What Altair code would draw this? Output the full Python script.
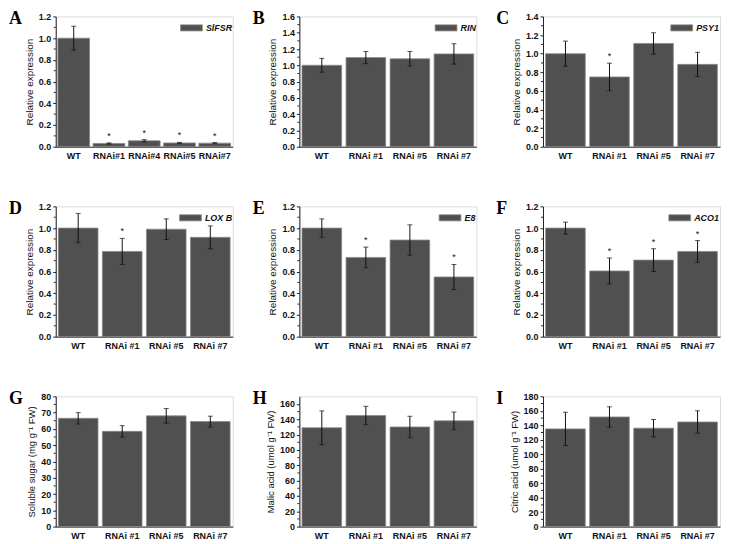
import altair as alt
import pandas as pd

# ---------------- data ----------------
cats_a = ["WT", "RNAi#1", "RNAi#4", "RNAi#5", "RNAi#7"]
cats = ["WT", "RNAi #1", "RNAi #5", "RNAi #7"]

sifsr_val = [1.0, 0.03, 0.055, 0.035, 0.033]
sifsr_err = [0.11, 0.005, 0.01, 0.005, 0.005]
sifsr_sig = [0, 1, 1, 1, 1]

rin_val = [1.0, 1.095, 1.08, 1.14]
rin_err = [0.085, 0.075, 0.09, 0.125]
rin_sig = [0, 0, 0, 0]

psy1_val = [1.0, 0.75, 1.11, 0.885]
psy1_err = [0.135, 0.148, 0.115, 0.13]
psy1_sig = [0, 1, 0, 0]

loxb_val = [1.0, 0.785, 0.99, 0.915]
loxb_err = [0.135, 0.12, 0.095, 0.105]
loxb_sig = [0, 1, 0, 0]

e8_val = [1.0, 0.73, 0.89, 0.55]
e8_err = [0.085, 0.095, 0.14, 0.115]
e8_sig = [0, 1, 0, 1]

aco1_val = [1.0, 0.605, 0.705, 0.785]
aco1_err = [0.055, 0.12, 0.105, 0.1]
aco1_sig = [0, 1, 1, 1]

sugar_val = [66.5, 58.5, 68.0, 64.5]
sugar_err = [3.5, 3.5, 4.5, 3.3]

malic_val = [129, 145, 130, 138]
malic_err = [22, 12, 14, 11.5]

citric_val = [135, 151.5, 136, 144.5]
citric_err = [23, 14, 12, 15.5]

BAR = "#505050"
W, H = 178, 131
FONT = "Liberation Sans"


def panel(letter, cats_, vals, errs, sig, gene, ytitle, ymax, ystep, fmt,
          tsize=10):
    n = len(cats_)
    df = pd.DataFrame({
        "cat": cats_,
        "val": vals,
        "lo": [v - e for v, e in zip(vals, errs)],
        "hi": [v + e for v, e in zip(vals, errs)],
        "star": ["*" if s else "" for s in sig],
        "gene": [gene if gene else "x"] * n,
    })
    ticks = []
    minors = []
    k = 0
    while k * ystep <= ymax + 1e-9:
        ticks.append(round(k * ystep, 6))
        if (k + 0.5) * ystep < ymax:
            minors.append(round((k + 0.5) * ystep, 6))
        k += 1
    xs = alt.X("cat:N", sort=cats_, axis=None)
    xenc = alt.X("cat:N", sort=cats_, title=None,
                 scale=alt.Scale(paddingInner=0.1, paddingOuter=0.06),
                 axis=alt.Axis(labelAngle=0, ticks=False, labelFont=FONT,
                               labelFontWeight="bold", labelFontSize=9,
                               labelColor="#111", labelPadding=5,
                               domainColor="#222", domainWidth=1))
    yscale = alt.Scale(domain=[0, ymax], nice=False, zero=True)
    yaxis = alt.Axis(values=ticks, format=fmt, title=ytitle, grid=False,
                     labelOverlap=False, labelFlush=False,
                     labelFont=FONT, labelFontWeight="bold", labelFontSize=9,
                     labelColor="#111", tickSize=3, tickColor="#222",
                     domainColor="#222", titleFont=FONT, titleFontSize=tsize,
                     titleFontWeight="normal", titleColor="#111",
                     titlePadding=4, labelPadding=2)
    base = alt.Chart(df)
    if gene:
        color = alt.Color("gene:N", scale=alt.Scale(range=[BAR]),
                          legend=alt.Legend(
                              title=None, orient="top-right", offset=0,
                              padding=0,
                              symbolType="M-1,-0.28L1,-0.28L1,0.28L-1,0.28Z",
                              symbolSize=480, symbolStrokeColor="#8a8a8a",
                              symbolStrokeWidth=0.8, symbolOpacity=1,
                              labelFont=FONT, labelFontStyle="italic",
                              labelFontWeight="bold", labelFontSize=9,
                              labelColor="#111", labelOffset=3))
    else:
        color = alt.value(BAR)
    bars = base.mark_bar(stroke="#8a8a8a", strokeWidth=0.8, opacity=1).encode(
        x=xenc, y=alt.Y("val:Q", scale=yscale, axis=yaxis), color=color)
    rule = base.mark_rule(color="#111", strokeWidth=1).encode(
        x=xs, y=alt.Y("lo:Q", axis=None), y2="hi:Q")
    cap_hi = base.mark_tick(color="#111", thickness=1, size=5,
                            orient="horizontal").encode(
        x=xs, y=alt.Y("hi:Q", axis=None))
    cap_lo = base.mark_tick(color="#111", thickness=1, size=5,
                            orient="horizontal").encode(
        x=xs, y=alt.Y("lo:Q", axis=None))
    star = base.mark_text(color="#111", fontSize=9, baseline="bottom",
                          dy=-2, font=FONT).encode(
        x=xs, y=alt.Y("hi:Q", axis=None), text="star:N")
    minor = alt.Chart(pd.DataFrame({"m": minors})).mark_rule(
        color="#222", strokeWidth=1).encode(
        x=alt.value(-2), x2=alt.value(0), y=alt.Y("m:Q", axis=None))
    lab = alt.Chart(pd.DataFrame({"t": [letter]})).mark_text(
        font="Liberation Serif", fontSize=18, fontWeight="bold",
        align="left", baseline="top", color="#000").encode(
        x=alt.value(-47), y=alt.value(-6), text="t:N")
    return alt.layer(bars, rule, cap_hi, cap_lo, star, minor, lab).resolve_axis(
        x="independent", y="independent").properties(width=W, height=H)


rel = "Relative expression"
pA = panel("A", cats_a, sifsr_val, sifsr_err, sifsr_sig, "SlFSR", rel, 1.2, 0.2, ".1f")
pB = panel("B", cats, rin_val, rin_err, rin_sig, "RIN", rel, 1.6, 0.2, ".1f")
pC = panel("C", cats, psy1_val, psy1_err, psy1_sig, "PSY1", rel, 1.4, 0.2, ".1f")
pD = panel("D", cats, loxb_val, loxb_err, loxb_sig, "LOX B", rel, 1.2, 0.2, ".1f")
pE = panel("E", cats, e8_val, e8_err, e8_sig, "E8", rel, 1.2, 0.2, ".1f")
pF = panel("F", cats, aco1_val, aco1_err, aco1_sig, "ACO1", rel, 1.2, 0.2, ".1f")
pG = panel("G", cats, sugar_val, sugar_err, [0] * 4, None,
           "Soluble sugar (mg g\u207b\u00b9 FW)", 80, 10, "d", 9.5)
pH = panel("H", cats, malic_val, malic_err, [0] * 4, None,
           "Malic acid (umol g\u207b\u00b9 FW)", 170, 20, "d", 9.5)
pI = panel("I", cats, citric_val, citric_err, [0] * 4, None,
           "Citric acid (umol g\u207b\u00b9 FW)", 180, 20, "d", 9.5)

chart = alt.concat(pA, pB, pC, pD, pE, pF, pG, pH, pI, columns=3,
                   spacing={"row": 60, "column": 67},
                   bounds="flush").resolve_scale(
    color="independent", x="independent", y="independent").resolve_legend(
    color="independent").properties(padding=0).configure_view(
    stroke=None).configure(background="white")

chart.save("out.html", embed_options={"renderer": "svg", "actions": False})
